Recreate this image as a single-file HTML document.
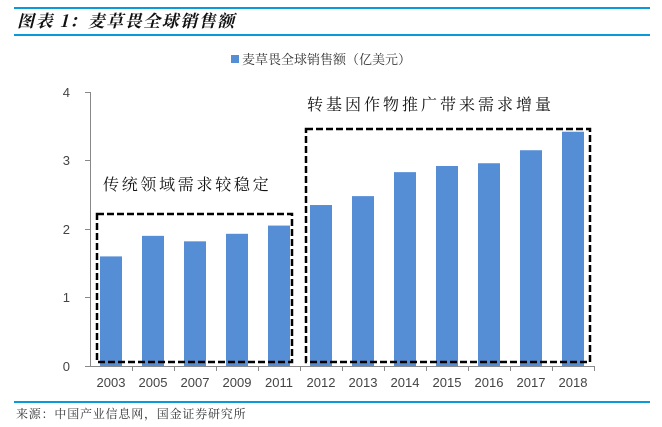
<!DOCTYPE html><html><head><meta charset="utf-8"><style>body{margin:0;background:#fff;}svg{display:block}</style></head><body>
<svg width="662" height="427" xmlns="http://www.w3.org/2000/svg" font-family="Liberation Sans, Noto Sans CJK SC, sans-serif">
<rect x="14" y="7" width="636" height="2" fill="#0b9ad8"/>
<rect x="14" y="34" width="636" height="2" fill="#0b9ad8"/>
<text x="17" y="27" font-size="17" font-weight="bold" font-style="italic" fill="#111" letter-spacing="1.5" font-family="Noto Serif CJK SC, serif">图表 1：麦草畏全球销售额</text>
<rect x="231" y="55" width="8" height="8" fill="#558ed5"/>
<text x="242" y="64" font-size="13" fill="#333" font-family="Noto Serif CJK SC, serif">麦草畏全球销售额（亿美元）</text>
<g font-size="13" fill="#444" text-anchor="end">
<text x="70" y="97">4</text><text x="70" y="165">3</text><text x="70" y="234">2</text><text x="70" y="302">1</text><text x="70" y="371">0</text></g>
<g stroke="#888" stroke-width="1"><line x1="90.5" y1="92" x2="90.5" y2="366"/><line x1="85" y1="92.5" x2="90" y2="92.5"/><line x1="85" y1="160.5" x2="90" y2="160.5"/><line x1="85" y1="229.5" x2="90" y2="229.5"/><line x1="85" y1="297.5" x2="90" y2="297.5"/><line x1="85" y1="366.5" x2="594" y2="366.5"/></g>
<g id="bars" fill="#558ed5"></g>
<g id="ticks" stroke="#888"></g>
<g id="labels" font-size="13" fill="#444" text-anchor="middle"></g>
<rect x="97" y="214" width="195" height="148" fill="none" stroke="#000" stroke-width="2.5" stroke-dasharray="7,3"/>
<rect x="306" y="129" width="284" height="233" fill="none" stroke="#000" stroke-width="2.5" stroke-dasharray="7,3"/>
<text x="103" y="190" font-size="16" fill="#111" letter-spacing="2.7" font-family="Noto Serif CJK SC, serif">传统领域需求较稳定</text>
<text x="307" y="110" font-size="16" fill="#111" letter-spacing="3" font-family="Noto Serif CJK SC, serif">转基因作物推广带来需求增量</text>
<rect x="14" y="401" width="636" height="2" fill="#0b9ad8"/>
<text x="16" y="418" font-size="12" fill="#333" letter-spacing="0.8" font-family="Noto Serif CJK SC, serif">来源：中国产业信息网，国金证券研究所</text>
<script>
var v=[1.6,1.9,1.82,1.93,2.05,2.35,2.48,2.83,2.92,2.96,3.15,3.42],y=["2003","2005","2007","2009","2011","2012","2013","2014","2015","2016","2017","2018"];
var b=document.getElementById('bars'),t=document.getElementById('ticks'),l=document.getElementById('labels'),ns="http://www.w3.org/2000/svg";
for(var i=0;i<12;i++){var c=90+42*i+21;var r=document.createElementNS(ns,'rect');var h=v[i]*68.5;r.setAttribute('x',c-11);r.setAttribute('width',22);r.setAttribute('y',366-h);r.setAttribute('height',h);b.appendChild(r);
var k=document.createElementNS(ns,'line');k.setAttribute('x1',90.5+42*(i+1));k.setAttribute('x2',90.5+42*(i+1));k.setAttribute('y1',366);k.setAttribute('y2',371);t.appendChild(k);
var x=document.createElementNS(ns,'text');x.setAttribute('x',c);x.setAttribute('y',387);x.textContent=y[i];l.appendChild(x);}
</script>
</svg></body></html>
